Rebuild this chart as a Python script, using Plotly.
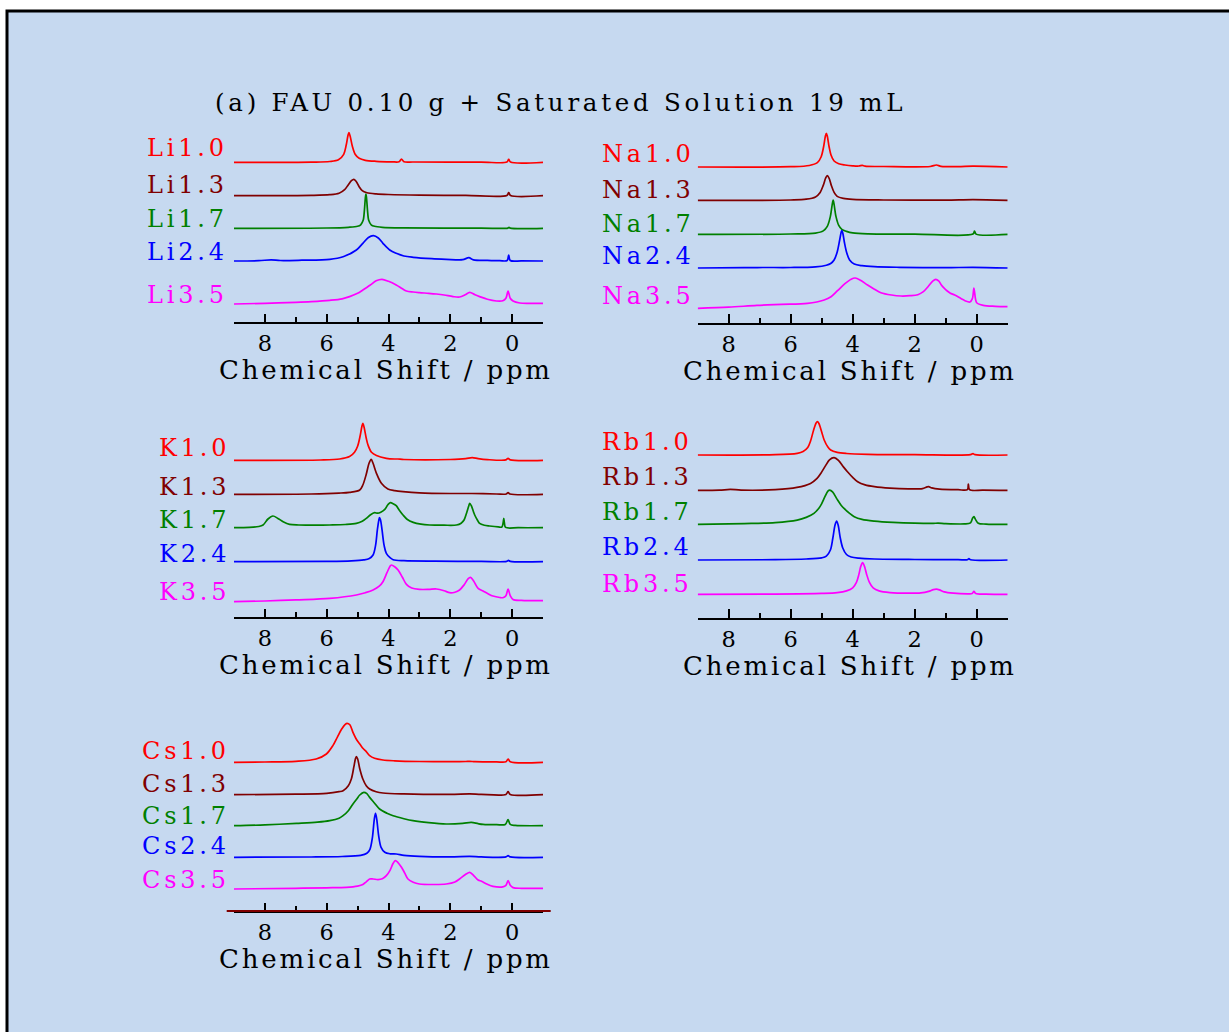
import plotly.graph_objects as go

# ---------------- data (ppm, intensity above each trace's own baseline) ----------------
COLORS = ['#ff0000', '#800000', '#008000', '#0000ff', '#ff00ff']

TITLE = '(a) FAU 0.10 g + Saturated Solution 19 mL'
AXIS_TITLE = 'Chemical Shift / ppm'
TICK_VALS = [8, 6, 4, 2, 0]
TICK_TEXT = ['8', '6', '4', '2', '0']
MINOR_VALS = [9, 7, 5, 3, 1, -1]

LI_LABELS = ['Li1.0', 'Li1.3', 'Li1.7', 'Li2.4', 'Li3.5']
LI_OFFSETS = [157.7, 124.3, 91.7, 59.0, 16.7]
LI_LABEL_Y = [172.3, 135.3, 101.0, 68.0, 25.3]
LI_10 = [(9, 0), (6.5, 0.2), (5.9, 0.8), (5.62, 2.5), (5.45, 8), (5.37, 17), (5.31, 27), (5.28, 29.7), (5.24, 26),
         (5.17, 16), (5.08, 8), (4.95, 4), (4.75, 2), (4.4, 1), (3.9, 0.5), (3.66, 0.5), (3.58, 3.3), (3.5, 0.6),
         (3.2, 0.3), (1.0, 0.2), (0.17, 0.2), (0.11, 3.0), (0.05, 0.2), (-1, 0)]
LI_13 = [(9, 0), (6.5, 0.3), (5.9, 1), (5.6, 2.5), (5.42, 6), (5.3, 11), (5.2, 15), (5.12, 16.3), (5.04, 14),
         (4.95, 9), (4.85, 5), (4.7, 3), (4.4, 1.8), (4.0, 1.2), (3.0, 0.6), (1.5, 0.3), (0.17, 0.2), (0.11, 3),
         (0.05, 0.2), (-1, 0)]
LI_17 = [(9, 0), (6, 0.3), (5.3, 1), (5.0, 2), (4.9, 3.5), (4.82, 8), (4.78, 18), (4.75, 30), (4.73, 34.3),
         (4.71, 30), (4.68, 18), (4.64, 8), (4.56, 3.5), (4.45, 2), (4.2, 1), (3.5, 0.4), (1, 0.2), (0.14, 0.2),
         (0.1, 1), (0.06, 0.2), (-1, 0)]
LI_24 = [(9, 0), (8.2, 0.3), (7.8, 1.2), (7.5, 0.5), (6.8, 0.8), (5.9, 1.7), (5.47, 4.3), (5.04, 11), (4.83, 17.7),
         (4.65, 23.5), (4.49, 25.3), (4.33, 23), (4.18, 17.7), (3.96, 11), (3.75, 7.7), (3.5, 5), (3.2, 3.7),
         (2.6, 2.3), (2.13, 1.7), (1.6, 1.3), (1.4, 3.3), (1.25, 1.2), (0.8, 0.6), (0.4, 0.3), (0.16, 0.5),
         (0.11, 6), (0.06, 0.5), (-0.3, 0.1), (-1, 0)]
LI_35 = [(9, -0.7), (8, 0), (7, 1), (6.5, 1.7), (5.9, 3), (5.5, 4.5), (5.26, 6.7), (5.0, 10), (4.83, 13.3),
         (4.6, 18), (4.4, 22.5), (4.21, 24), (4.0, 22), (3.75, 18.3), (3.55, 14.5), (3.42, 12.3), (3.2, 11.3),
         (3.0, 10.7), (2.7, 10), (2.45, 9.3), (2.2, 8.3), (1.91, 6.7), (1.7, 6.3), (1.52, 8.5), (1.37, 11),
         (1.2, 8.5), (1.05, 6.7), (0.8, 4), (0.51, 2.3), (0.3, 2.5), (0.2, 5), (0.13, 12.3), (0.06, 5),
         (-0.03, 2.3), (-0.25, 0.3), (-0.6, 0), (-1, 0)]

NA_LABELS = ['Na1.0', 'Na1.3', 'Na1.7', 'Na2.4', 'Na3.5']
NA_OFFSETS = [153.7, 120.3, 86.3, 52.7, 14.0]
NA_LABEL_Y = [166.7, 130.4, 97.0, 64.7, 25.0]
NA_10 = [(9, 0), (6, 0.3), (5.4, 1.5), (5.14, 4.3), (5.02, 10), (4.94, 20), (4.88, 31), (4.85, 33.7), (4.82, 31),
         (4.76, 20), (4.7, 12), (4.6, 6), (4.45, 3.2), (4.25, 2), (4.0, 1.2), (3.8, 1.0), (3.69, 1.7), (3.6, 0.8),
         (3.0, 0.5), (1.5, 0.5), (1.3, 2), (1.15, 0.7), (0.6, 0.3), (0.12, 0.8), (-1, 0)]
NA_13 = [(9, 0), (6, 0.4), (5.5, 1.2), (5.2, 3.5), (5.05, 8), (4.95, 15), (4.87, 22.5), (4.82, 24.7), (4.76, 22),
         (4.69, 15), (4.6, 8), (4.5, 4), (4.3, 2), (4.0, 1), (3, 0.4), (1, 0.2), (0.12, 0.8), (-1, 0)]
NA_17 = [(9, 0), (6, 0.4), (5.2, 1.3), (4.95, 3.5), (4.82, 8), (4.72, 18), (4.66, 30), (4.63, 34.3), (4.6, 30),
         (4.54, 18), (4.45, 9), (4.35, 5), (4.2, 3), (4.0, 1.5), (3.5, 0.6), (2, 0.3), (0.12, 0.3), (0.07, 3.3),
         (0.02, 0.3), (-1, 0)]
NA_24 = [(9, 0), (7.5, 0.3), (6.9, 0.5), (6, 0.5), (5.2, 1.2), (4.85, 2.8), (4.71, 4.5), (4.6, 8), (4.5, 16),
         (4.42, 28), (4.37, 36), (4.35, 37.3), (4.32, 35), (4.27, 26), (4.2, 16), (4.1, 8), (3.95, 4), (3.7, 2.3),
         (3.3, 1.3), (2.5, 0.7), (1, 0.3), (0.12, 0.7), (-1, 0)]
NA_35 = [(9, -1.7), (8, -0.5), (7.09, 1.3), (6.3, 2.3), (5.46, 3.3), (4.92, 6.7), (4.7, 10), (4.49, 16), (4.25, 23),
         (4.05, 27.5), (3.92, 28.7), (3.75, 26.5), (3.52, 21.7), (3.3, 17.5), (3.09, 14), (2.75, 11.7), (2.44, 10.7),
         (2.15, 11), (1.9, 12), (1.72, 15), (1.57, 20), (1.42, 25.5), (1.32, 27.3), (1.22, 25.5), (1.14, 21.7),
         (1.05, 18.5), (0.95, 15.7), (0.85, 13.5), (0.71, 11.7), (0.5, 8), (0.38, 6), (0.22, 4.7), (0.14, 8),
         (0.09, 18.7), (0.04, 8), (0.0, 4), (-0.21, 1.3), (-0.6, 0.4), (-1, 0)]

K_LABELS = ['K1.0', 'K1.3', 'K1.7', 'K2.4', 'K3.5']
K_OFFSETS = [154.7, 120.7, 87.3, 53.3, 14.3]
K_LABEL_Y = [166.7, 128.3, 95.0, 61.0, 23.3]
K_10 = [(9, 0), (6.2, 0.3), (5.58, 1.3), (5.26, 3.7), (5.1, 8), (5.0, 14), (4.92, 24), (4.86, 34), (4.83, 37),
        (4.79, 33), (4.72, 22), (4.66, 15), (4.55, 8), (4.39, 4.7), (4.07, 2), (3.8, 1.3), (3.7, 1.3), (3.5, 0.8),
        (2, 0.8), (1.5, 1.7), (1.29, 2.7), (1.1, 1.7), (0.8, 0.7), (0.2, 0.4), (0.13, 2), (0.06, 0.4), (-1, 0)]
K_13 = [(9, 0), (6.5, 0.3), (5.6, 1.2), (5.26, 2), (4.93, 4.3), (4.83, 9.3), (4.72, 20), (4.63, 31), (4.56, 35),
        (4.5, 31), (4.39, 21), (4.23, 11), (4.02, 5.3), (3.8, 3.7), (3.53, 2.7), (3.0, 1.5), (2.0, 0.8), (1.3, 0.8),
        (0.5, 0.3), (0.19, 0.3), (0.13, 1.7), (0.07, 0.3), (-1, 0)]
K_17 = [(9, 0), (8.5, 0.3), (8.2, 1.2), (8.06, 2.7), (7.9, 8.7), (7.74, 11.7), (7.58, 9.3), (7.41, 6), (7.2, 3.3),
        (6.9, 2.7), (6.3, 2.5), (5.9, 2.7), (5.4, 3.2), (5.04, 4.3), (4.85, 6.5), (4.72, 9.3), (4.58, 13),
        (4.45, 15), (4.35, 14.5), (4.25, 15.5), (4.12, 18.3), (4.02, 23), (3.94, 25), (3.85, 24), (3.75, 22),
        (3.65, 17.5), (3.53, 12.7), (3.4, 8.5), (3.2, 5.3), (2.95, 3.5), (2.67, 2.7), (2.2, 2.5), (1.8, 2.7),
        (1.65, 4.5), (1.55, 8), (1.47, 15), (1.4, 22), (1.37, 24.3), (1.32, 22), (1.25, 16), (1.21, 12.7),
        (1.12, 7.5), (1.05, 4.3), (0.9, 2.5), (0.73, 1.7), (0.45, 0.8), (0.33, 0.7), (0.29, 5), (0.27, 9.3),
        (0.25, 5), (0.21, 0.3), (-0.2, 0), (-1, 0)]
K_24 = [(9, 0), (6, 0.3), (5.2, 0.8), (4.8, 1.8), (4.62, 3.2), (4.5, 6.7), (4.42, 16), (4.36, 32), (4.31, 42),
        (4.29, 44), (4.26, 42), (4.21, 32), (4.14, 16), (4.07, 8.3), (3.95, 4), (3.85, 2), (3.5, 1), (2.5, 0.5),
        (1, 0.3), (0.18, 0.3), (0.12, 1.3), (0.06, 0.3), (-1, 0)]
K_35 = [(9, -1), (8, -0.3), (7, 0.8), (5.9, 2.3), (5.04, 5.7), (4.75, 8), (4.5, 10.7), (4.3, 14.5), (4.18, 19),
        (4.05, 28), (3.95, 34.5), (3.91, 35.7), (3.8, 34), (3.69, 30.7), (3.55, 23.5), (3.42, 16.3), (3.25, 12.7),
        (3.0, 11.3), (2.7, 11.3), (2.45, 11.7), (2.2, 10), (2.02, 8), (1.85, 8.5), (1.7, 10.7), (1.55, 16),
        (1.42, 22), (1.35, 23.3), (1.25, 20), (1.1, 12.3), (0.94, 9.7), (0.78, 7), (0.62, 4.7), (0.4, 3.2),
        (0.3, 3), (0.2, 5), (0.13, 11.7), (0.06, 5), (-0.03, 1.3), (-0.3, 0.3), (-1, 0)]

RB_LABELS = ['Rb1.0', 'Rb1.3', 'Rb1.7', 'Rb2.4', 'Rb3.5']
RB_OFFSETS = [160.7, 125.3, 91.3, 55.7, 21.3]
RB_LABEL_Y = [174.0, 138.7, 103.3, 68.3, 32.0]
RB_10 = [(9, 0), (6.5, 0.3), (5.79, 1.7), (5.6, 3.5), (5.45, 7.5), (5.36, 14), (5.26, 25), (5.18, 32), (5.14, 33.3),
         (5.09, 31.5), (5.0, 23), (4.92, 15), (4.8, 8), (4.71, 5), (4.5, 2.6), (4.2, 1.5), (3.5, 0.7), (2, 0.4),
         (0.2, 0.3), (0.12, 1.3), (0.05, 0.3), (-1, 0)]
RB_13 = [(9, 0), (8.3, 0.2), (7.95, 1), (7.6, 0.3), (6.5, 0.8), (5.8, 3), (5.36, 7), (5.15, 12), (5.03, 17),
         (4.88, 24.5), (4.75, 30.5), (4.6, 32.7), (4.46, 30), (4.3, 23.5), (4.17, 18.7), (4.0, 13), (3.84, 8.7),
         (3.6, 5.5), (3.3, 3.7), (2.8, 2.2), (2.2, 1.5), (1.75, 1.8), (1.6, 3.5), (1.55, 3.7), (1.45, 2.5),
         (1.2, 1.3), (0.6, 0.7), (0.3, 0.7), (0.27, 6.3), (0.23, 0.7), (-0.2, 0.2), (-1, 0)]
RB_17 = [(9, 0), (7.5, 0.8), (6.5, 1.8), (5.79, 4.3), (5.5, 7), (5.25, 11), (5.05, 18), (4.9, 27.5), (4.8, 33.3),
         (4.74, 34.3), (4.65, 32.5), (4.5, 25), (4.38, 19.5), (4.28, 16), (4.1, 11), (3.95, 7.7), (3.7, 5),
         (3.3, 3.3), (2.7, 2), (2, 1.2), (1.4, 1), (1.25, 1.3), (1.0, 0.8), (0.4, 0.5), (0.2, 1.5), (0.13, 6.5),
         (0.09, 7.7), (0.04, 5), (-0.05, 1.2), (-0.3, 0.3), (-1, 0)]
RB_24 = [(9, 0), (6.5, 0.3), (5.5, 1), (5.0, 2.2), (4.85, 3.8), (4.72, 10), (4.64, 22), (4.57, 35), (4.52, 39),
         (4.47, 35), (4.4, 22), (4.32, 12), (4.2, 5.5), (4.05, 3), (3.8, 1.8), (3.3, 1), (2, 0.5), (0.6, 0.3),
         (0.3, 0.3), (0.25, 1.3), (0.2, 0.3), (-1, 0)]
RB_35 = [(9, 0), (6.5, 0.3), (5, 1), (4.5, 1.8), (4.2, 3.5), (4.0, 6.5), (3.88, 12), (3.8, 20), (3.74, 28),
         (3.68, 31.7), (3.62, 28), (3.55, 20), (3.46, 12), (3.34, 6.5), (3.15, 3.5), (2.8, 1.8), (2.2, 1.2),
         (1.8, 1.5), (1.55, 3), (1.4, 4.8), (1.3, 5.3), (1.2, 4.5), (1.05, 2.5), (0.75, 1.2), (0.3, 0.6),
         (0.15, 0.8), (0.09, 3), (0.03, 0.8), (-0.3, 0.2), (-1, 0)]

CS_LABELS = ['Cs1.0', 'Cs1.3', 'Cs1.7', 'Cs2.4', 'Cs3.5']
CS_OFFSETS = [146.7, 114.3, 83.3, 51.7, 20.7]
CS_LABEL_Y = [158.3, 125.3, 93.3, 63.3, 29.3]
CS_10 = [(9, 0), (8, 0.3), (7, 1), (6.34, 3.3), (6.01, 8.3), (5.8, 16.7), (5.65, 25.5), (5.52, 33), (5.4, 38),
         (5.34, 39), (5.25, 37.5), (5.15, 30), (5.02, 22), (4.93, 18.3), (4.83, 14), (4.72, 10.7), (4.61, 6.7),
         (4.45, 4), (4.18, 2.3), (3.8, 1.5), (3.0, 0.8), (2, 0.6), (1.5, 0.8), (1.37, 1), (1.2, 0.6), (0.5, 0.4),
         (0.2, 0.5), (0.13, 3.3), (0.06, 0.5), (-1, 0)]
CS_13 = [(9, 0), (7, 0.5), (6, 1.3), (5.6, 3), (5.47, 4), (5.3, 9), (5.2, 16), (5.12, 28), (5.07, 36), (5.04, 38),
         (5.0, 36), (4.93, 26), (4.83, 15.7), (4.72, 9), (4.61, 5.7), (4.4, 3), (4.18, 1.7), (3.5, 0.8), (2, 0.3),
         (1.37, 0.8), (1.0, 0.3), (0.2, 0.3), (0.13, 3), (0.06, 0.3), (-1, 0)]
CS_17 = [(9, 0), (8, 0.8), (6.98, 2.3), (6.3, 3.5), (5.9, 5), (5.6, 7.5), (5.47, 10), (5.3, 15), (5.15, 21.7),
         (5.02, 27), (4.93, 30.7), (4.8, 33.3), (4.7, 32), (4.61, 28.3), (4.45, 22.5), (4.29, 16.7), (4.05, 12.5),
         (3.85, 10), (3.5, 7), (3.21, 5), (2.7, 3), (2.13, 1.7), (1.6, 2.3), (1.32, 3.3), (1.1, 2), (0.94, 1.3),
         (0.5, 1), (0.22, 1.3), (0.13, 6), (0.06, 1.3), (-0.1, 0.3), (-1, 0)]
CS_24 = [(9, 0), (6.5, 0.3), (5.5, 0.8), (4.9, 2), (4.7, 4), (4.6, 8), (4.52, 20), (4.46, 38), (4.42, 44),
         (4.38, 38), (4.32, 22), (4.24, 10), (4.12, 5), (3.95, 3.5), (3.75, 3.3), (3.5, 2), (3.0, 1), (2, 0.5),
         (1.37, 1), (1, 0.4), (0.2, 0.4), (0.13, 1.7), (0.06, 0.4), (-1, 0)]
CS_35 = [(9, -0.7), (7, 0), (6, 0.5), (5.36, 1), (5.0, 2.2), (4.83, 3.7), (4.72, 6.5), (4.61, 9.3), (4.5, 9.3),
         (4.34, 8.7), (4.2, 9.5), (4.07, 12.7), (3.95, 18), (3.85, 25), (3.78, 27.7), (3.7, 26), (3.58, 21),
         (3.47, 15), (3.37, 9.3), (3.2, 6), (3.0, 4.3), (2.5, 3.8), (2.13, 4.3), (1.85, 6.3), (1.7, 9.3),
         (1.5, 14), (1.37, 16), (1.25, 13), (1.1, 8.3), (0.99, 7), (0.8, 4), (0.62, 2), (0.3, 1.5), (0.2, 3),
         (0.13, 7.7), (0.06, 3), (-0.03, 0.7), (-0.3, 0), (-1, 0)]

# ---------------- layout (pixel geometry of the page) ----------------
W, H = 1229, 1032
YSPAN = 215   # y-axis span (1 unit = 1 px)
LIFT = 2      # baseline of every trace/label sits this many px higher relative to the axis line
SERIF = 'DejaVu Serif'

PANELS = [
    # labels, spectra, offsets, label y, x-left px, x-right px, axis y px, label right px
    (LI_LABELS, [LI_10, LI_13, LI_17, LI_24, LI_35], LI_OFFSETS, LI_LABEL_Y, 234, 543, 322, 230),
    (NA_LABELS, [NA_10, NA_13, NA_17, NA_24, NA_35], NA_OFFSETS, NA_LABEL_Y, 697.7, 1007.7, 322.7, 695.5),
    (K_LABELS, [K_10, K_13, K_17, K_24, K_35], K_OFFSETS, K_LABEL_Y, 234, 543, 617, 232),
    (RB_LABELS, [RB_10, RB_13, RB_17, RB_24, RB_35], RB_OFFSETS, RB_LABEL_Y, 697.7, 1007.7, 617.7, 695),
    (CS_LABELS, [CS_10, CS_13, CS_17, CS_24, CS_35], CS_OFFSETS, CS_LABEL_Y, 234, 543, 911, 232),
]

fig = go.Figure()
layout = dict(
    width=W, height=H, autosize=False,
    margin=dict(l=0, r=0, t=0, b=0, pad=0),
    paper_bgcolor='white', plot_bgcolor='rgba(0,0,0,0)',
    showlegend=False,
)
annotations = []
shapes = [
    dict(type='rect', xref='paper', yref='paper', x0=7 / W, x1=1.1, y0=-0.1, y1=1 - 11 / H,
         fillcolor='#c6d9f0', line=dict(color='black', width=3), layer='below'),
]


def spaced(text, px):
    return '<span style="letter-spacing:%spx">%s</span>' % (px, text)


for i, (labels, spectra, offsets, label_y, xl, xr, ay, lr) in enumerate(PANELS, start=1):
    xa = 'x' if i == 1 else 'x%d' % i
    ya = 'y' if i == 1 else 'y%d' % i
    layout['xaxis' if i == 1 else 'xaxis%d' % i] = dict(
        domain=[xl / W, xr / W], range=[9, -1], anchor=ya,
        showline=True, linecolor='black', linewidth=2, mirror=False,
        ticks='inside', ticklen=8.5, tickwidth=1.5, tickcolor='black',
        tickmode='array', tickvals=TICK_VALS, ticktext=TICK_TEXT,
        tickfont=dict(family=SERIF, size=22.5, color='black'),
        minor=dict(ticks='inside', ticklen=5, tickwidth=1.5, tickcolor='black',
                   tickmode='array', tickvals=MINOR_VALS, showgrid=False),
        showgrid=False, zeroline=False, fixedrange=True,
    )
    layout['yaxis' if i == 1 else 'yaxis%d' % i] = dict(
        domain=[1 - ay / H, 1 - (ay - YSPAN) / H], range=[0, YSPAN], anchor=xa,
        visible=False, fixedrange=True,
    )
    for name, pts, off, ly, color in zip(labels, spectra, offsets, label_y, COLORS):
        fig.add_trace(go.Scatter(
            x=[p for p, _ in pts], y=[off + LIFT + v for _, v in pts], mode='lines', name=name,
            line=dict(color=color, width=1.7, shape='spline', smoothing=0.9),
            xaxis=xa, yaxis=ya, hoverinfo='skip',
        ))
        annotations.append(dict(
            xref='paper', yref=ya, x=lr / W, y=ly + LIFT, xanchor='right', yanchor='middle',
            text=spaced(name, 3.8), showarrow=False,
            font=dict(family=SERIF, size=24, color=color),
        ))
    annotations.append(dict(
        xref='paper', yref='paper', x=((xl + xr) / 2 - 3) / W, y=1 - (ay + 48) / H,
        xanchor='center', yanchor='middle', text=spaced(AXIS_TITLE, 2.8), showarrow=False,
        font=dict(family=SERIF, size=26, color='black'),
    ))

# dark red base line under the Cs panel
shapes.append(dict(type='line', xref='paper', yref='paper', x0=226.7 / W, x1=550.7 / W,
                   y0=1 - 911 / H, y1=1 - 911 / H, line=dict(color='#800000', width=2), layer='above'))

annotations.append(dict(
    xref='paper', yref='paper', x=560.5 / W, y=1 - 103 / H, xanchor='center', yanchor='middle',
    text=spaced(TITLE, 3.75), showarrow=False, font=dict(family=SERIF, size=24.5, color='black'),
))

layout['annotations'] = annotations
layout['shapes'] = shapes
fig.update_layout(**layout)
fig.write_html('out.html', config={'displayModeBar': False})
